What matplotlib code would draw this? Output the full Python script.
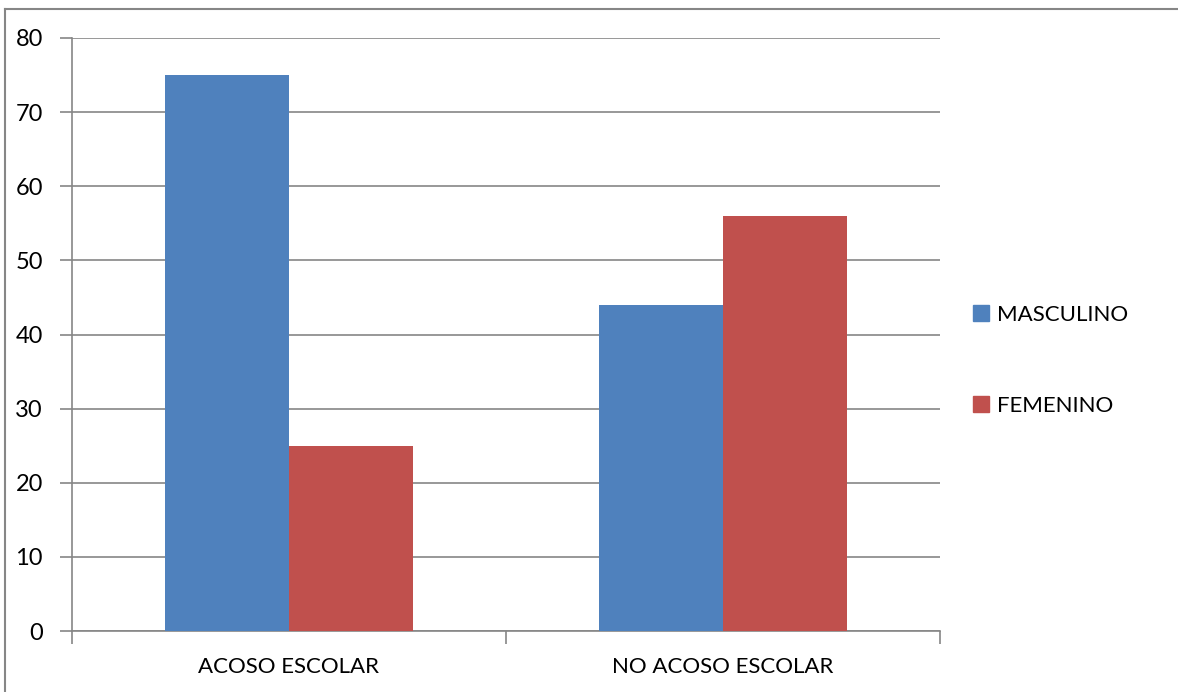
import matplotlib.pyplot as plt
import numpy as np
from matplotlib.lines import Line2D

plt.rcParams['font.family'] = ['Lato', 'DejaVu Sans']

# datos del gráfico
categorias = ['ACOSO ESCOLAR', 'NO ACOSO ESCOLAR']
masculino = [75, 44]
femenino = [25, 56]
series = ['MASCULINO', 'FEMENINO']
colores = ['#4F81BD', '#C0504D']
ticks_y = [0, 10, 20, 30, 40, 50, 60, 70, 80]

W, H = 1178, 692
fig = plt.figure(figsize=(W / 100, H / 100), dpi=100)
ax = fig.add_axes([72 / W, 1 - 631 / H, (940 - 72) / W, (631 - 38) / H])

x = np.arange(len(categorias))
ancho = 124 / 434
ax.bar(x - ancho / 2, masculino, ancho, color=colores[0], label=series[0], zorder=3)
ax.bar(x + ancho / 2, femenino, ancho, color=colores[1], label=series[1], zorder=3)

ax.set_xlim(-0.5, len(categorias) - 0.5)
ax.set_ylim(0, 80)
ax.set_yticks(ticks_y)
ax.set_yticklabels([str(t) for t in ticks_y], fontsize=17)
ax.yaxis.grid(True, color='#868686', linewidth=1.2, zorder=0)

# marcas del eje x entre categorias
ax.set_xticks(x)
ax.set_xticklabels(categorias, fontsize=16)
ax.tick_params(axis='x', length=0, pad=18.5)
ax.set_xticks(np.arange(len(categorias) + 1) - 0.5, minor=True)
ax.tick_params(axis='x', which='minor', length=9, width=1.2, color='#868686', direction='out')
ax.tick_params(axis='y', length=9, width=1.2, color='#868686', pad=12)

for lado in ['top', 'right']:
    ax.spines[lado].set_visible(False)
for lado in ['left', 'bottom']:
    ax.spines[lado].set_color('#868686')
    ax.spines[lado].set_linewidth(1.2)

# leyenda a la derecha
manejadores = [Line2D([0], [0], marker='s', linestyle='', markersize=11,
                      markerfacecolor=c, markeredgecolor=c) for c in colores]
fig.legend(manejadores, series, loc='upper left', bbox_to_anchor=(951 / W, 1 - 285 / H),
           frameon=False, fontsize=16, handletextpad=0.25, labelspacing=3.2,
           handlelength=0.9)

# borde del area del grafico
fig.add_artist(Line2D([5 / W, 5 / W], [0, 1 - 9 / H], color='#868686', linewidth=1.5))
fig.add_artist(Line2D([5 / W, 1], [1 - 9 / H, 1 - 9 / H], color='#868686', linewidth=1.5))

fig.savefig('out.png', dpi=100)
